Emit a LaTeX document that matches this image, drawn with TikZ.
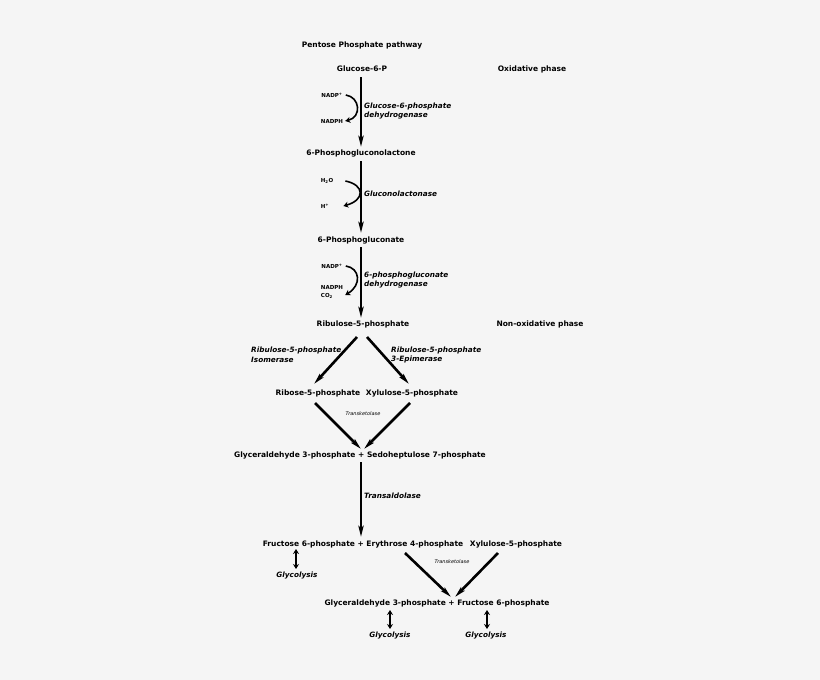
\documentclass[tikz,border=0pt]{standalone}
\usepackage{fontspec}
\setmainfont{DejaVu Sans}
\usetikzlibrary{arrows.meta}
\begin{document}
\begin{tikzpicture}[x=1pt,y=-1pt,
  lbl/.style={font=\bfseries\fontsize{7.5}{8}\selectfont,inner sep=0pt},
  enz/.style={font=\bfseries\itshape\fontsize{7.3}{9.5}\selectfont,inner sep=0pt,align=left,anchor=west},
  sm/.style={font=\bfseries\fontsize{5.5}{7.5}\selectfont,inner sep=0pt},
  tiny/.style={font=\itshape\fontsize{5}{5}\selectfont,inner sep=0pt},
  big/.style={line width=2.6pt,-{Stealth[length=11pt,width=5pt,inset=2pt]}},
  dbl/.style={line width=2.2pt,{Stealth[length=5pt,width=6pt]}-{Stealth[length=5pt,width=6pt]}},
  cur/.style={line width=1.6pt,-{Stealth[length=5pt,width=6pt]}}]
\fill[white!96!black] (0,0) rectangle (820,680);
\node[lbl] (title) at (362,45) {Pentose Phosphate pathway};
\node[lbl] (g6p) at (362,69) {Glucose-6-P};
\node[lbl] (oxph) at (532,69) {Oxidative phase};
\node[lbl] (pgl) at (361,153) {6-Phosphogluconolactone};
\node[lbl] (pg) at (361,240) {6-Phosphogluconate};
\node[lbl] (ru5p) at (363,324) {Ribulose-5-phosphate};
\node[lbl] (noxph) at (540,324) {Non-oxidative phase};
\node[lbl] (r5p) at (318,393) {Ribose-5-phosphate};
\node[lbl] (x5p) at (412,393) {Xylulose-5-phosphate};
\node[lbl] (gs) at (360,455) {Glyceraldehyde 3-phosphate + Sedoheptulose 7-phosphate};
\node[lbl] (fe) at (363,544) {Fructose 6-phosphate + Erythrose 4-phosphate};
\node[lbl] (x5pb) at (516,544) {Xylulose-5-phosphate};
\node[lbl] (gf) at (437,603) {Glyceraldehyde 3-phosphate + Fructose 6-phosphate};
\node[enz,anchor=center] (gly1) at (297,576) {Glycolysis};
\node[enz,anchor=center] (gly2) at (390,636) {Glycolysis};
\node[enz,anchor=center] (gly3) at (486,636) {Glycolysis};
% cofactors
\node[sm] (n1) at (332,95) {NADP\textsuperscript{+}};
\node[sm] (n2) at (332,121) {NADPH};
\node[sm] (h2o) at (327,181) {H\textsubscript{2}O};
\node[sm] (hp) at (325,206) {H\textsuperscript{+}};
\node[sm] (n3) at (332,266) {NADP\textsuperscript{+}};
\node[sm,align=left] (n4) at (332,292) {NADPH\\CO\textsubscript{2}};
% enzymes
\node[enz] (e1) at (364,111) {Glucose-6-phosphate\\dehydrogenase};
\node[enz] (e2) at (364,194) {Gluconolactonase};
\node[enz] (e3) at (364,280) {6-phosphogluconate\\dehydrogenase};
\node[enz] (e4) at (251,355) {Ribulose-5-phosphate\\Isomerase};
\node[enz] (e5) at (391,355) {Ribulose-5-phosphate\\3-Epimerase};
\node[tiny] (tk1) at (363,414) {Transketolase};
\node[enz] (ta) at (364,496) {Transaldolase};
\node[tiny] (tk2) at (452,562) {Transketolase};
% coordinates
\coordinate (a1) at (361,77); \coordinate (a2) at (361,147);
\coordinate (b1) at (361,161); \coordinate (b2) at (361,233);
\coordinate (c1) at (361,247); \coordinate (c2) at (361,318);
\coordinate (d0) at (357,337); \coordinate (d1) at (314,384);
\coordinate (d2) at (367,337); \coordinate (d3) at (409,384);
\coordinate (e0) at (315,403); \coordinate (e2) at (361,449);
\coordinate (f0) at (410,403); \coordinate (f2) at (364,449);
\coordinate (g0) at (361,462); \coordinate (g1) at (361,537);
\coordinate (h0) at (405,553); \coordinate (h1) at (451,597);
\coordinate (i0) at (498,553); \coordinate (i1) at (455,597);
\coordinate (j0) at (296,549); \coordinate (j1) at (296,569);
\coordinate (k0) at (390,610); \coordinate (k1) at (390,629);
\coordinate (l0) at (487,610); \coordinate (l1) at (487,629);
% main arrows
\draw[big] (a1) -- (a2);
\draw[big] (b1) -- (b2);
\draw[big] (c1) -- (c2);
\draw[big] (d0) -- (d1);
\draw[big] (d2) -- (d3);
\draw[big] (e0) -- (e2);
\draw[big] (f0) -- (f2);
\draw[big] (g0) -- (g1);
\draw[big] (h0) -- (h1);
\draw[big] (i0) -- (i1);
% curved cofactor arrows
\draw[cur] (n1.east) ++(3,0) .. controls (360,97) and (362,117) .. ([xshift=2pt]n2.east);
\draw[cur] (h2o.east) ++(12,0) .. controls (365,185) and (365,200) .. ([xshift=14pt]hp.east);
\draw[cur] (n3.east) ++(3,0) .. controls (360,268) and (362,285) .. ([xshift=2pt,yshift=-3pt]n4.east);
% double arrows
\draw[dbl] (j0) -- (j1);
\draw[dbl] (k0) -- (k1);
\draw[dbl] (l0) -- (l1);
\end{tikzpicture}
\end{document}
